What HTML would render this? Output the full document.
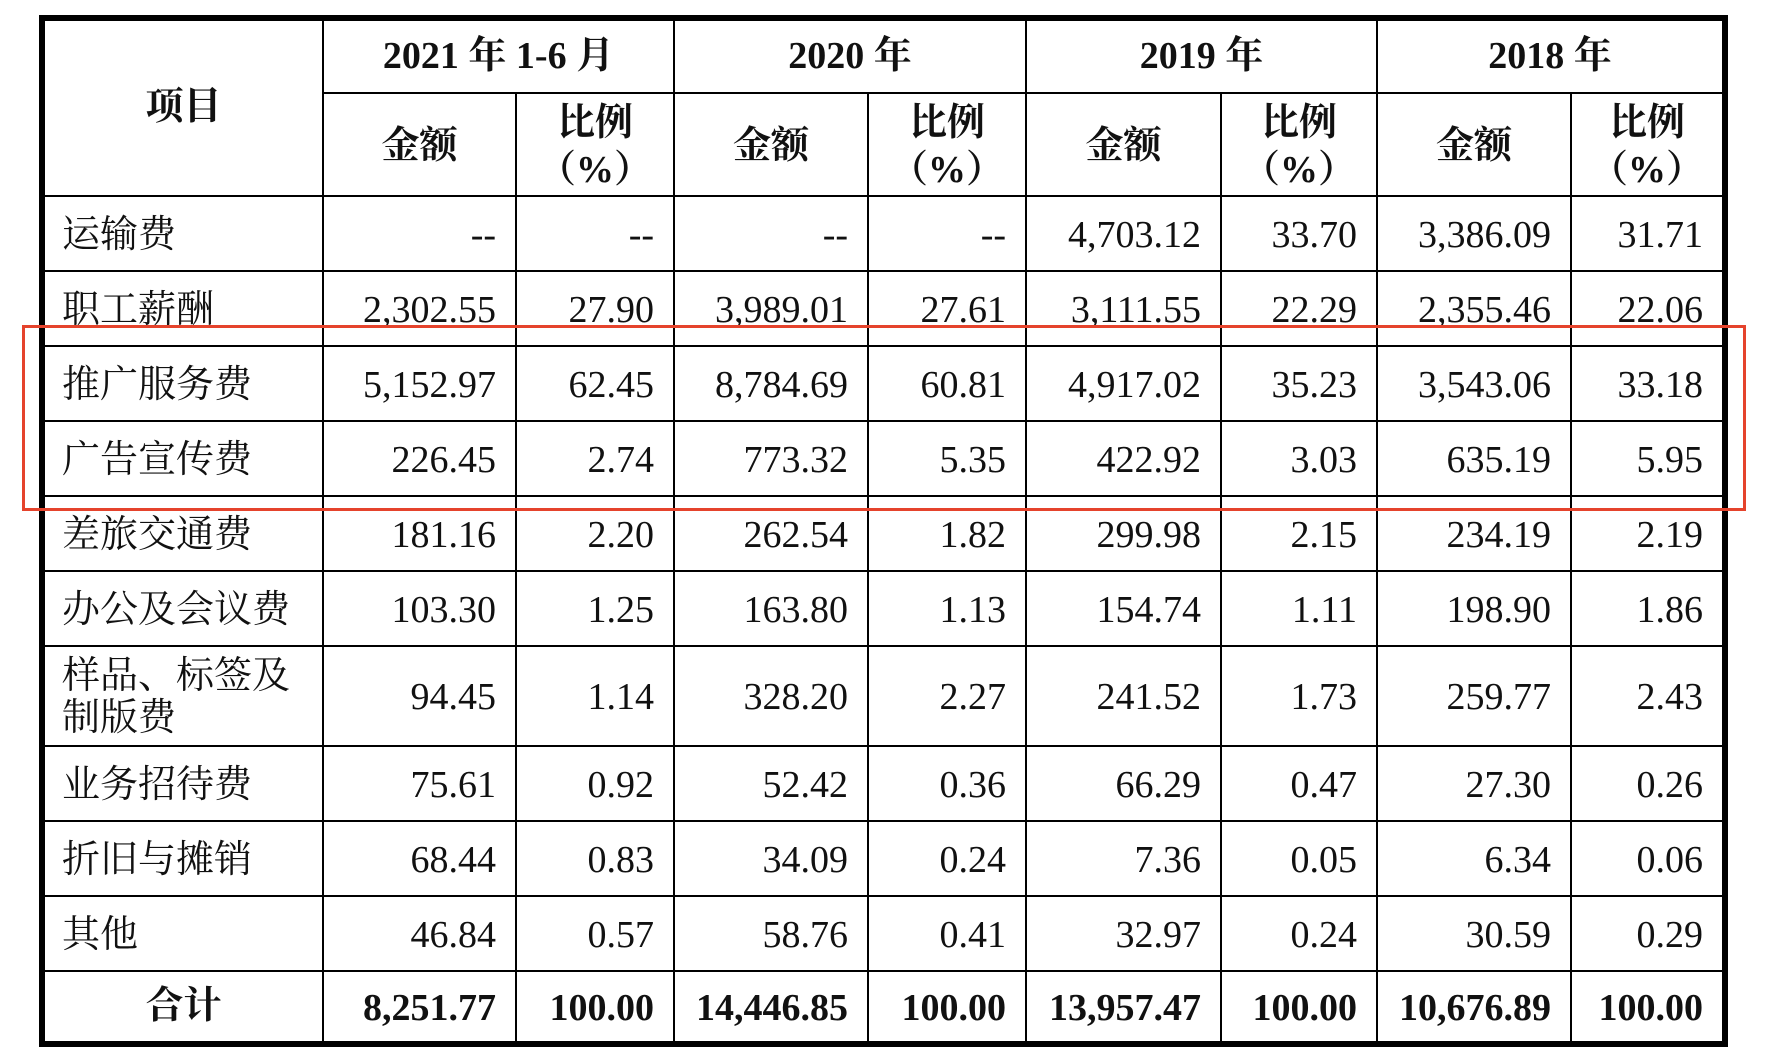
<!DOCTYPE html>
<html><head><meta charset="utf-8"><style>
html,body{margin:0;padding:0;background:#fff;width:1766px;height:1064px;overflow:hidden}
.t{position:absolute;left:39px;top:15px;width:1677px;height:1020px;border:6px solid #000;background:#000;display:grid;
grid-template-columns:277px 191px 156px 192px 156px 193px 154px 192px 150px;
grid-template-rows:71px 101px 73px 73px 73px 73px 73px 73px 98px 73px 73px 73px 69px;gap:2px;
font-family:"Liberation Serif","Noto Serif CJK SC",serif;font-size:38px;color:#111}
.t>div{background:#fff;display:flex;align-items:center;justify-content:flex-end;padding-right:19px;padding-top:4px;line-height:1.1;box-sizing:border-box}
.t>div.l{justify-content:flex-start;padding-left:17px;padding-right:0}
.t>div.c{justify-content:center;padding:0;text-align:center;font-weight:bold}
.t>div.h{justify-content:center;padding:4px 0 0 0;text-align:center;font-weight:bold;line-height:1.22}
.b{font-weight:bold}
.red{position:absolute;left:22px;top:325px;width:1718px;height:180px;border:3px solid #e5432c}
</style></head><body>
<div class="t">
<div class="c" style="grid-row:1/3">项目</div>
<div class="c" style="grid-column:2/4">2021 年 1-6 月</div>
<div class="c" style="grid-column:4/6">2020 年</div>
<div class="c" style="grid-column:6/8">2019 年</div>
<div class="c" style="grid-column:8/10">2018 年</div>
<div class="h">金额</div><div class="h">比例<br>（%）</div>
<div class="h">金额</div><div class="h">比例<br>（%）</div>
<div class="h">金额</div><div class="h">比例<br>（%）</div>
<div class="h">金额</div><div class="h">比例<br>（%）</div>

<div class="l">运输费</div><div>--</div><div>--</div><div>--</div><div>--</div><div>4,703.12</div><div>33.70</div><div>3,386.09</div><div>31.71</div>
<div class="l">职工薪酬</div><div>2,302.55</div><div>27.90</div><div>3,989.01</div><div>27.61</div><div>3,111.55</div><div>22.29</div><div>2,355.46</div><div>22.06</div>
<div class="l">推广服务费</div><div>5,152.97</div><div>62.45</div><div>8,784.69</div><div>60.81</div><div>4,917.02</div><div>35.23</div><div>3,543.06</div><div>33.18</div>
<div class="l">广告宣传费</div><div>226.45</div><div>2.74</div><div>773.32</div><div>5.35</div><div>422.92</div><div>3.03</div><div>635.19</div><div>5.95</div>
<div class="l">差旅交通费</div><div>181.16</div><div>2.20</div><div>262.54</div><div>1.82</div><div>299.98</div><div>2.15</div><div>234.19</div><div>2.19</div>
<div class="l">办公及会议费</div><div>103.30</div><div>1.25</div><div>163.80</div><div>1.13</div><div>154.74</div><div>1.11</div><div>198.90</div><div>1.86</div>
<div class="l">样品、标签及<br>制版费</div><div>94.45</div><div>1.14</div><div>328.20</div><div>2.27</div><div>241.52</div><div>1.73</div><div>259.77</div><div>2.43</div>
<div class="l">业务招待费</div><div>75.61</div><div>0.92</div><div>52.42</div><div>0.36</div><div>66.29</div><div>0.47</div><div>27.30</div><div>0.26</div>
<div class="l">折旧与摊销</div><div>68.44</div><div>0.83</div><div>34.09</div><div>0.24</div><div>7.36</div><div>0.05</div><div>6.34</div><div>0.06</div>
<div class="l">其他</div><div>46.84</div><div>0.57</div><div>58.76</div><div>0.41</div><div>32.97</div><div>0.24</div><div>30.59</div><div>0.29</div>
<div class="c">合计</div><div class="b">8,251.77</div><div class="b">100.00</div><div class="b">14,446.85</div><div class="b">100.00</div><div class="b">13,957.47</div><div class="b">100.00</div><div class="b">10,676.89</div><div class="b">100.00</div>
</div>
<div class="red"></div>
</body></html>
